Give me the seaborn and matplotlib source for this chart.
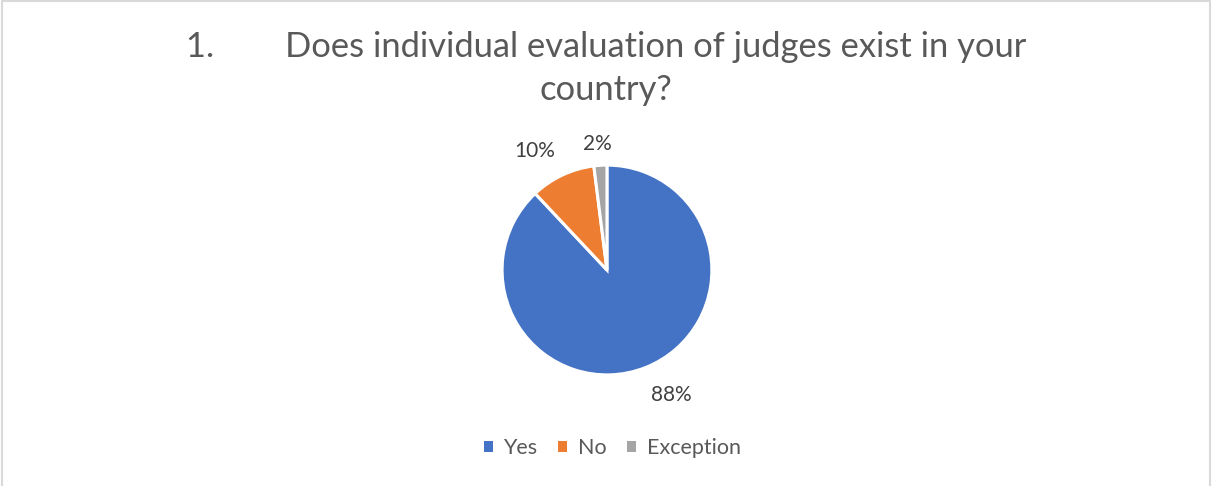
import matplotlib
matplotlib.use("Agg")
import matplotlib.pyplot as plt
import seaborn as sns
from matplotlib.patches import Rectangle, Patch

categories = ["Yes", "No", "Exception"]
shares = [88, 10, 2]
colors = ["#4472C4", "#ED7D31", "#A5A5A5"]
title = "1.        Does individual evaluation of judges exist in your\ncountry?"

sns.set_theme(style="white")
plt.rcParams['font.family'] = ['Lato', 'DejaVu Sans']
text_col = "#595959"

fig = plt.figure(figsize=(12.12, 4.86), dpi=100)
fig.patch.set_facecolor("white")
fig.patches.append(Rectangle((0.002, -0.05), 0.996, 1.047, transform=fig.transFigure,
                             fill=False, edgecolor="#D9D9D9", linewidth=1.5))

ax = fig.add_axes([0.4125, 0.2243, 0.1766, 0.4403])
wedges, texts, autotexts = ax.pie(shares, colors=colors, startangle=90, counterclock=False,
                                  autopct="%d%%", pctdistance=1.25, radius=1.0,
                                  wedgeprops=dict(edgecolor="white", linewidth=2.2),
                                  textprops=dict(color="#404040", fontsize=15))
# nudge labels the way the original "best fit" put them
autotexts[0].set_position((0.61, -1.19))
autotexts[1].set_position((-0.69, 1.13))
autotexts[2].set_position((-0.09, 1.20))
ax.set_xlim(-1.02, 1.02)
ax.set_ylim(-1.02, 1.02)
ax.set_aspect("equal")
ax.axis("off")

fig.text(0.5, 0.859, title, ha="center", va="center", fontsize=24.8, color=text_col,
         linespacing=1.42)

handles = [Patch(facecolor=c, edgecolor="none") for c in colors]
fig.legend(handles, categories, loc="center", bbox_to_anchor=(0.505, 0.078), ncol=3,
           frameon=False, fontsize=15.5, handlelength=0.42, handleheight=0.42,
           handletextpad=0.5, columnspacing=0.95, labelcolor=text_col)

plt.savefig("out.png", dpi=100)
